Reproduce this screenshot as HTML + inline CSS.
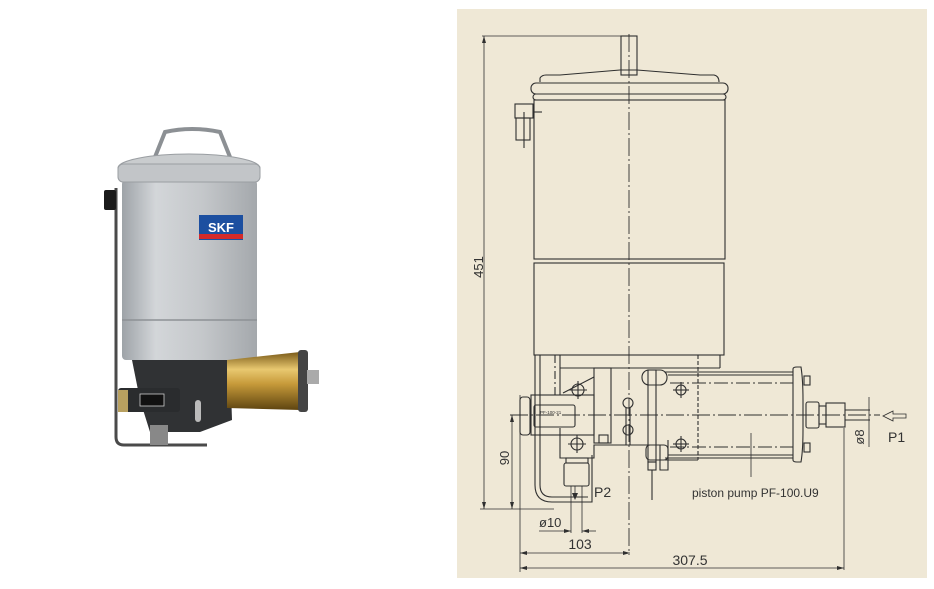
<!DOCTYPE html>
<html><head><meta charset="utf-8"><style>
html,body{margin:0;padding:0;background:#fff;width:934px;height:589px;overflow:hidden}
svg{display:block}
text{font-family:"Liberation Sans",sans-serif;fill:#333}
</style></head><body>
<svg width="934" height="589" viewBox="0 0 934 589" xmlns="http://www.w3.org/2000/svg">
<defs>
<linearGradient id="can" x1="0" x2="1" y1="0" y2="0">
<stop offset="0" stop-color="#9ea3a8"/><stop offset="0.25" stop-color="#d3d6d9"/><stop offset="0.6" stop-color="#c4c7ca"/><stop offset="1" stop-color="#a4a8ac"/>
</linearGradient>
<linearGradient id="brass" x1="0" x2="0" y1="0" y2="1">
<stop offset="0" stop-color="#7a5a18"/><stop offset="0.3" stop-color="#e8c870"/><stop offset="0.55" stop-color="#c79a3a"/><stop offset="1" stop-color="#5e4410"/>
</linearGradient>
</defs>
<!-- Photo -->
<g>
<path d="M155 157 L165 132 Q192 126 220 132 L230 157" fill="none" stroke="#8c9094" stroke-width="4"/>
<path d="M116 188 L116 437 Q116 445 124 445 L207 445" fill="none" stroke="#4a4a4a" stroke-width="3"/>
<rect x="104" y="190" width="12" height="20" rx="2" fill="#1a1a1a"/>
<rect x="122" y="180" width="135" height="180" rx="4" fill="url(#can)"/>
<path d="M122 320 L257 320" stroke="#8d9195" stroke-width="1.5"/>
<ellipse cx="189" cy="168" rx="71" ry="14" fill="#c9ccce" stroke="#9a9ea2"/>
<rect x="118" y="164" width="142" height="18" rx="5" fill="#c2c5c8" stroke="#9a9ea2"/>
<rect x="199" y="215" width="44" height="25" fill="#1c4fa0"/>
<rect x="199" y="234" width="44" height="5" fill="#d42a2a"/>
<text x="221" y="232" font-size="13" font-weight="bold" text-anchor="middle" style="fill:#fff">SKF</text>
<path d="M132 360 L230 360 L232 420 L200 432 L150 432 L140 400 Z" fill="#303234"/>
<rect x="118" y="388" width="62" height="24" rx="3" fill="#2a2c2e"/>
<rect x="140" y="394" width="24" height="12" fill="#111" stroke="#ccc" stroke-width="0.8"/>
<rect x="118" y="390" width="10" height="22" fill="#b8a060"/>
<path d="M227 360 L300 352 Q308 380 300 410 L227 408 Z" fill="url(#brass)"/>
<rect x="298" y="350" width="10" height="62" rx="3" fill="#444"/>
<rect x="307" y="370" width="12" height="14" fill="#aaa"/>
<rect x="150" y="425" width="18" height="20" fill="#888"/>
<rect x="195" y="400" width="6" height="22" rx="3" fill="#bbb"/>
</g>

<!-- Drawing panel -->
<rect x="457" y="9" width="470" height="569" fill="#efe8d6"/>
<g fill="none" stroke="#2f2f2f" stroke-width="1.1">
<!-- handle -->
<rect x="621" y="36" width="16" height="39"/>
<!-- lid -->
<path d="M540 82 L540 78 Q542 75 546 75 L560 75 L620 70 L637 70 L700 75 L714 75 Q719 76 719 82"/>
<rect x="531" y="83" width="197" height="11" rx="5"/>
<rect x="533" y="94" width="193" height="6" rx="3"/>
<!-- body -->
<rect x="534" y="100" width="191" height="159"/>
<rect x="534" y="263" width="190" height="92"/>
<!-- left fitting -->
<rect x="515" y="104" width="18" height="14"/>
<rect x="516" y="118" width="14" height="22"/>
<line x1="533" y1="112" x2="542" y2="112"/>
<line x1="524" y1="112" x2="524" y2="148"/>
<!-- lower structure -->
<line x1="560" y1="368" x2="720" y2="368"/>
<line x1="720" y1="355" x2="720" y2="368"/>
<path d="M535 355 L535 485 Q535 502 552 502 L592 502 L592 455"/>
<path d="M540 355 L540 485 Q540 497 552 497 L588 497"/>
<line x1="555" y1="355" x2="555" y2="395" stroke-dasharray="8 3 2 3"/>
<line x1="560" y1="355" x2="560" y2="395"/>
<path d="M563 393 L594 377"/>
<rect x="594" y="368" width="17" height="75"/>
<rect x="599" y="435" width="9" height="8"/>
<!-- nameplate block -->
<rect x="531" y="395" width="63" height="40"/>
<rect x="534" y="405" width="41" height="22" rx="2"/>
<rect x="520" y="397" width="10" height="38" rx="3"/>
<path d="M560 428 L560 458 L594 458 L594 445 L660 445 L660 470 L668 470 L668 440"/>
<circle cx="577" cy="444" r="6"/>
<line x1="568" y1="444" x2="586" y2="444"/><line x1="577" y1="435" x2="577" y2="453"/>
<circle cx="578" cy="390" r="6"/>
<line x1="569" y1="390" x2="587" y2="390"/><line x1="578" y1="381" x2="578" y2="399"/>
<!-- knob -->
<circle cx="628" cy="403" r="5"/><circle cx="628" cy="430" r="5"/>
<line x1="626" y1="408" x2="626" y2="445"/><line x1="630" y1="408" x2="630" y2="445"/>
<!-- clamp -->
<rect x="642" y="370" width="25" height="15" rx="7"/>
<rect x="648" y="370" width="8" height="92"/>
<rect x="646" y="445" width="22" height="15" rx="4"/>
<rect x="648" y="462" width="8" height="8"/>
<line x1="652" y1="470" x2="652" y2="500"/>
<!-- pump box -->
<line x1="698" y1="355" x2="698" y2="460" stroke-dasharray="4 2"/>
<line x1="665" y1="460" x2="698" y2="460"/>
<circle cx="681" cy="390" r="5"/><line x1="673" y1="390" x2="689" y2="390"/><line x1="681" y1="382" x2="681" y2="398"/>
<circle cx="681" cy="444" r="5"/><line x1="673" y1="444" x2="689" y2="444"/><line x1="681" y1="436" x2="681" y2="452"/>
<!-- cylinder -->
<line x1="665" y1="372" x2="793" y2="372"/>
<line x1="668" y1="375" x2="793" y2="375"/>
<line x1="670" y1="383" x2="793" y2="383" stroke-dasharray="14 3 2 3"/>
<line x1="670" y1="447" x2="793" y2="447" stroke-dasharray="14 3 2 3"/>
<line x1="668" y1="455" x2="793" y2="455"/>
<line x1="665" y1="458" x2="793" y2="458"/>
<path d="M793 369 Q793 367 797 367 L801 367 Q803 380 803 400 L803 430 Q803 450 801 462 L797 462 Q793 462 793 460 Z"/>
<rect x="804" y="376" width="6" height="9"/><rect x="804" y="443" width="6" height="9"/>
<rect x="806" y="402" width="13" height="26" rx="2"/>
<rect x="819" y="406" width="7" height="18"/>
<rect x="826" y="403" width="19" height="24"/>
<line x1="845" y1="410" x2="870" y2="410"/><line x1="845" y1="420" x2="870" y2="420"/>
<!-- P2 fitting -->
<rect x="566" y="458" width="22" height="5"/>
<rect x="564" y="463" width="25" height="23" rx="2"/>
</g>
<!-- centerlines -->
<g stroke="#2f2f2f" stroke-width="0.9" fill="none" stroke-dasharray="18 3 2 3">
<line x1="629" y1="34" x2="629" y2="555"/>
<line x1="510" y1="415" x2="880" y2="415"/>
</g>
<!-- dimensions -->
<g stroke="#2f2f2f" stroke-width="0.8" fill="none">
<line x1="482" y1="36" x2="637" y2="36"/>
<line x1="484" y1="36" x2="484" y2="509"/>
<line x1="480" y1="509" x2="554" y2="509"/>
<line x1="512" y1="415" x2="512" y2="509"/>
<line x1="520" y1="395" x2="520" y2="572"/>
<line x1="571" y1="486" x2="571" y2="533"/>
<line x1="582" y1="486" x2="582" y2="533"/>
<line x1="539" y1="531" x2="571" y2="531"/>
<line x1="582" y1="531" x2="596" y2="531"/>
<line x1="520" y1="553" x2="630" y2="553"/>
<line x1="520" y1="568" x2="844" y2="568"/>
<line x1="844" y1="428" x2="844" y2="570"/>
<line x1="869" y1="397" x2="869" y2="447"/>
<line x1="751" y1="433" x2="751" y2="477"/>
<line x1="575" y1="486" x2="575" y2="495"/>
<path d="M883 416 L893 411 L893 414 L906 414 L906 418 L893 418 L893 421 Z"/>
</g>
<g fill="#2f2f2f">
<path d="M484 36 l-2 7 l4 0 z"/><path d="M484 509 l-2 -7 l4 0 z"/>
<path d="M512 415 l-2 7 l4 0 z"/><path d="M512 509 l-2 -7 l4 0 z"/>
<path d="M520 553 l7 -2 l0 4 z"/><path d="M630 553 l-7 -2 l0 4 z"/>
<path d="M520 568 l7 -2 l0 4 z"/><path d="M844 568 l-7 -2 l0 4 z"/>
<path d="M571 531 l-7 -2 l0 4 z"/><path d="M582 531 l7 -2 l0 4 z"/>
<path d="M575 500 l-3 -7 l6 0 z"/>
</g>
<g font-size="13">
<text x="483" y="267" transform="rotate(-90 483 267)" text-anchor="middle">451</text>
<text x="509" y="458" transform="rotate(-90 509 458)" text-anchor="middle">90</text>
<text x="864" y="437" transform="rotate(-90 864 437)" text-anchor="middle">ø8</text>
<text x="594" y="497" font-size="14">P2</text>
<text x="888" y="442" font-size="14">P1</text>
<text x="692" y="497" font-size="12">piston pump PF-100.U9</text>
<text x="539" y="527">ø10</text>
<text x="580" y="549" text-anchor="middle" font-size="14">103</text>
<text x="690" y="565" text-anchor="middle" font-size="14">307.5</text>
<text x="540" y="414" font-size="4.5">PF-100-21</text>
</g>
</svg>
</body></html>
